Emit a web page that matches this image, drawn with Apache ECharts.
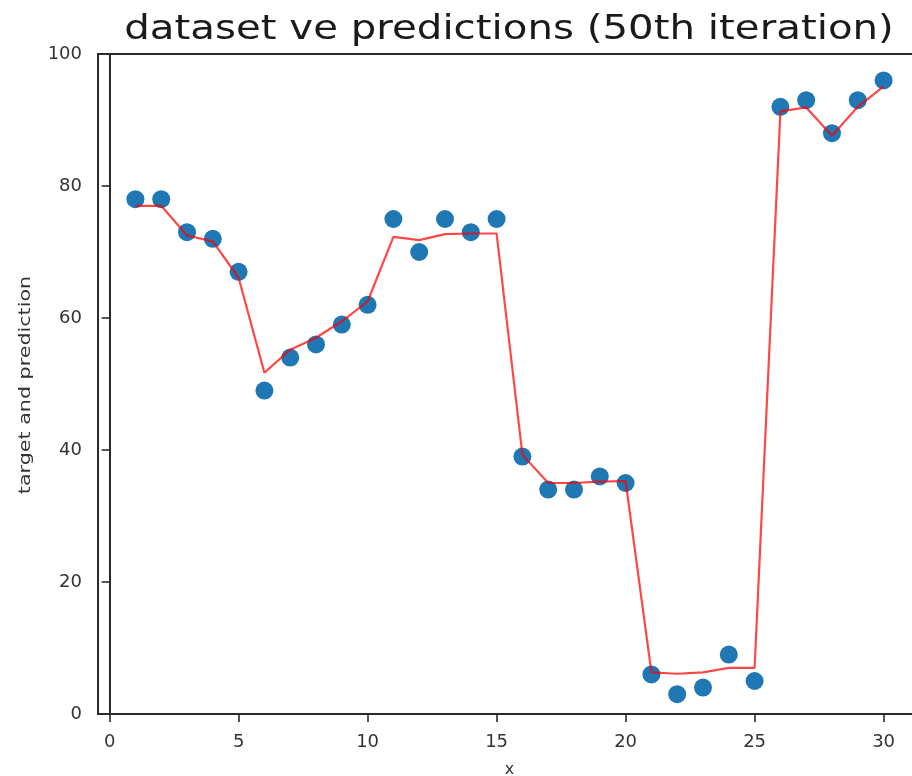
<!DOCTYPE html>
<html>
<head>
<meta charset="utf-8">
<script src="https://cdn.jsdelivr.net/npm/echarts@6/dist/echarts.min.js"></script>
<style>
  html, body { margin: 0; padding: 0; background: #ffffff; }
  #chart { width: 912px; height: 776px; }
</style>
</head>
<body>
<div id="chart"></div>
<script>
// Sample positions along x
const xs = [1, 2, 3, 4, 5, 6, 7, 8, 9, 10, 11, 12, 13, 14, 15,
            16, 17, 18, 19, 20, 21, 22, 23, 24, 25, 26, 27, 28, 29, 30];
// Target values (scatter)
const targets = [78, 78, 73, 72, 67, 49, 54, 56, 59, 62, 75, 70, 75, 73, 75,
                 39, 34, 34, 36, 35, 6, 3, 4, 9, 5, 92, 93, 88, 93, 96];
// Model predictions after 50 iterations (line)
const predictions = [77, 77, 72.5, 71.6, 66.1, 51.7, 55.2, 57.0, 59.5, 62.5,
                     72.3, 71.8, 72.7, 72.8, 72.8, 39.3, 35.0, 35.0, 35.2, 35.3,
                     6.3, 6.1, 6.3, 7.0, 7.0, 91.3, 91.9, 87.6, 92.0, 95.1];
// Axis tick labels
const xTicks = [0, 5, 10, 15, 20, 25, 30];
const yTicks = [0, 20, 40, 60, 80, 100];

const titleText = 'dataset ve predictions (50th iteration)';
const yAxisTitle = 'target and prediction';
const xAxisTitle = 'x';

const targetPoints = xs.map((x, i) => [x, targets[i]]);
const predictionPoints = xs.map((x, i) => [x, predictions[i]]);

const chart = echarts.init(document.getElementById('chart'), null, { renderer: 'canvas' });

const font = 'DejaVu Sans';
const axisColor = '#2b2b2b';
const labelColor = '#333333';

chart.setOption({
  backgroundColor: '#ffffff',
  animation: false,
  graphic: [
    {
      // chart title, drawn wide
      type: 'text',
      x: 509,
      y: 13,
      scaleX: 1.185,
      scaleY: 1,
      style: {
        text: titleText,
        fontFamily: font,
        fontSize: 34,
        fill: '#1a1a1a',
        align: 'center',
        verticalAlign: 'top'
      }
    },
    {
      // y-axis title, rotated
      type: 'text',
      x: 26,
      y: 385,
      rotation: Math.PI / 2,
      scaleX: 1.29,
      scaleY: 1,
      style: {
        text: yAxisTitle,
        fontFamily: font,
        fontSize: 16,
        fill: labelColor,
        align: 'center',
        verticalAlign: 'middle'
      }
    }
  ],
  grid: {
    left: 98, top: 54, width: 823, height: 660,
    outerBoundsMode: 'none',
    containLabel: false,
    show: true, borderColor: axisColor, borderWidth: 2, backgroundColor: 'transparent'
  },
  xAxis: {
    type: 'value',
    min: -0.45,
    max: 31.45,
    name: xAxisTitle,
    nameLocation: 'middle',
    nameGap: 48,
    nameTextStyle: { fontFamily: font, fontSize: 16, color: labelColor },
    axisLine: { show: true, lineStyle: { color: axisColor, width: 2 } },
    axisTick: { show: true, length: 8, customValues: xTicks, lineStyle: { color: axisColor, width: 1.6 } },
    axisLabel: { customValues: xTicks, fontFamily: font, fontSize: 18, color: labelColor, margin: 19 },
    splitLine: { show: false }
  },
  yAxis: {
    type: 'value',
    min: 0,
    max: 100,
    interval: 20,
    axisLine: { show: true, lineStyle: { color: axisColor, width: 2 } },
    axisTick: { show: true, length: 8, customValues: yTicks, lineStyle: { color: axisColor, width: 1.6 } },
    axisLabel: { customValues: yTicks, fontFamily: font, fontSize: 18, color: labelColor, margin: 16 },
    splitLine: { show: false }
  },
  series: [
    {
      name: 'target',
      type: 'scatter',
      data: targetPoints,
      symbol: 'circle',
      symbolSize: 18,
      itemStyle: { color: '#1f77b4', opacity: 1 },
      z: 2
    },
    {
      name: 'prediction',
      type: 'line',
      data: predictionPoints,
      showSymbol: false,
      symbol: 'none',
      lineStyle: { color: 'rgba(255, 0, 0, 0.72)', width: 2.2 },
      z: 3
    }
  ]
});
</script>
</body>
</html>
